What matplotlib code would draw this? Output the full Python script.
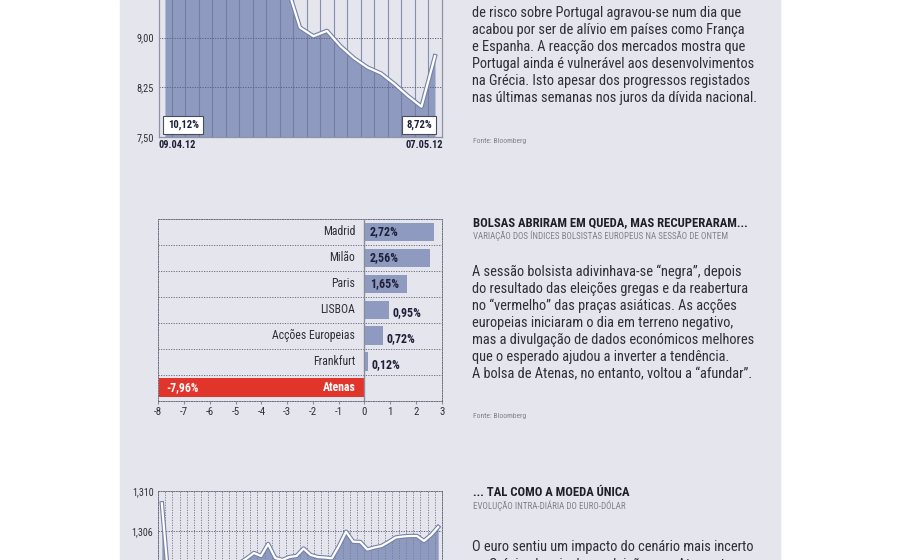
import numpy as np
import matplotlib
matplotlib.use("Agg")
import matplotlib.pyplot as plt
import matplotlib.patheffects as pe
from matplotlib import font_manager
from matplotlib.font_manager import FontProperties
from matplotlib.patches import Rectangle
from matplotlib.textpath import TextPath
from matplotlib.ticker import FuncFormatter

# --- data -------------------------------------------------------------
# Portuguese 10y yield, daily (09.04.12 .. 07.05.12)
yield_dates = ["09.04.12", "07.05.12"]
pt_yield = [10.12, 10.30, 10.45, 10.55, 10.70, 10.60, 10.80, 10.95, 10.70, 9.80,
            9.15, 9.02, 9.10, 8.87, 8.69, 8.55, 8.46, 8.30, 8.12, 7.96, 8.72]
yield_ticks = [7.50, 8.25, 9.00]

# European stock indices, % change in yesterday's session
markets = ["Madrid", "Milão", "Paris", "LISBOA", "Acções Europeias", "Frankfurt", "Atenas"]
changes = [2.72, 2.56, 1.65, 0.95, 0.72, 0.12, -7.96]
change_ticks = list(range(-8, 4))

# EUR/USD intraday
eurusd = [1.30877, 1.3006, 1.3012, 1.3018, 1.3010, 1.3015, 1.3021, 1.3017, 1.3023, 1.3020,
          1.3026, 1.3028, 1.30327, 1.30380, 1.30350, 1.30470, 1.30330, 1.30310, 1.30340, 1.30350,
          1.30425, 1.30360, 1.30340, 1.30335, 1.30327, 1.30450, 1.30593, 1.30493, 1.30490, 1.30415,
          1.30435, 1.30450, 1.30490, 1.30535, 1.30545, 1.30550, 1.30550, 1.30500, 1.30560, 1.30640]
eurusd_ticks = [1.306, 1.310]
eurusd_floor = 1.298

top_text = [
    "de risco sobre Portugal agravou-se num dia que",
    "acabou por ser de alívio em países como França",
    "e Espanha. A reacção dos mercados mostra que",
    "Portugal ainda é vulnerável aos desenvolvimentos",
    "na Grécia. Isto apesar dos progressos registados",
    "nas últimas semanas nos juros da dívida nacional.",
]
mid_title = "BOLSAS ABRIRAM EM QUEDA, MAS RECUPERARAM..."
mid_sub = "VARIAÇÃO DOS ÍNDICES BOLSISTAS EUROPEUS NA SESSÃO DE ONTEM"
mid_text = [
    "A sessão bolsista adivinhava-se “negra”, depois",
    "do resultado das eleições gregas e da reabertura",
    "no “vermelho” das praças asiáticas. As acções",
    "europeias iniciaram o dia em terreno negativo,",
    "mas a divulgação de dados económicos melhores",
    "que o esperado ajudou a inverter a tendência.",
    "A bolsa de Atenas, no entanto, voltou a “afundar”.",
]
bot_title = "... TAL COMO A MOEDA ÚNICA"
bot_sub = "EVOLUÇÃO INTRA-DIÁRIA DO EURO-DÓLAR"
bot_text = [
    "O euro sentiu um impacto do cenário mais incerto",
    "na Grécia, depois de as eleições em Atenas terem",
]
source = "Fonte: Bloomberg"

# --- style ------------------------------------------------------------
W, H = 900, 560
PANEL = "#e4e5ed"
FILL = "#8e9abf"
EDGE = "#7681a8"
RED = "#e1342b"
TXT = "#2e2f37"
NAVY = "#1d2038"
GREY = "#80828d"
DOT = (0, (1.2, 1.4))

names = {f.name for f in font_manager.fontManager.ttflist}
FONT = next((n for n in ["Liberation Sans Narrow", "Roboto Condensed", "Open Sans Condensed", "Lato"]
             if n in names), "DejaVu Sans")
plt.rcParams["font.family"] = [FONT, "DejaVu Sans"]
plt.rcParams["axes.unicode_minus"] = False

# scale all type so the body text fills the same width as the original
probe = TextPath((0, 0), top_text[3], size=10.3, prop=FontProperties(family=FONT))
S = 282 / (probe.get_extents().width * 100 / 72)


def fs(size):
    return size * S


def px_axes(left, top, right, bottom):
    return fig.add_axes([left / W, 1 - bottom / H, (right - left) / W, (bottom - top) / H])


def ftext(x, y, s, size, **kw):
    fig.text(x / W, 1 - y / H, s, fontsize=fs(size), va="center", ha="left", **kw)


def pct(v):
    return f"{v:.2f}%".replace(".", ",")


line_fx = [pe.Stroke(linewidth=3.2, foreground=EDGE), pe.Normal()]

fig = plt.figure(figsize=(W / 100, H / 100), dpi=100)
fig.patch.set_facecolor("white")
fig.patches.append(Rectangle((120 / W, 0), 660 / W, 1, transform=fig.transFigure,
                             color=PANEL, zorder=-1))

# --- top chart: yield -------------------------------------------------
ax1 = px_axes(159, -95.5, 442, 137.3)
ax1.set_facecolor("none")
x1 = np.arange(len(pt_yield))
ax1.fill_between(x1, pt_yield, 7.5, color=FILL, lw=0, zorder=1)
for g in x1[:-1] + 0.5:
    ax1.axvline(g, color="#6f7899", lw=0.8, alpha=0.8, zorder=2)
for yv in yield_ticks[1:]:
    ax1.axhline(yv, color="#5c5f70", lw=0.7, ls=DOT, zorder=2)
ax1.plot(x1, pt_yield, color="white", lw=1.6, zorder=3, path_effects=line_fx)
ax1.set_xlim(-0.44, 20.52)
ax1.set_ylim(7.5, 11.0)
ax1.set_xticks([])
ax1.set_yticks(yield_ticks)
ax1.yaxis.set_major_formatter(FuncFormatter(lambda v, p: f"{v:.2f}".replace(".", ",")))
ax1.tick_params(axis="y", length=0, pad=3.5, labelsize=fs(7.4), labelcolor=TXT)
for s in ["left", "right", "bottom"]:
    ax1.spines[s].set_color("#8f93a6")
    ax1.spines[s].set_linewidth(0.9)
ax1.spines["top"].set_visible(False)
box = dict(boxstyle="square,pad=0.4", fc="white", ec="#4a4d5c", lw=0.8)
ax1.annotate(pct(pt_yield[0]), xy=(x1[0], 7.5), xytext=(2.0, 8.9), textcoords="offset points",
             ha="left", va="center", fontsize=fs(7.6), weight="bold", color=NAVY, bbox=box)
ax1.annotate(pct(pt_yield[-1]), xy=(x1[-1], 7.5), xytext=(-2.2, 8.9), textcoords="offset points",
             ha="right", va="center", fontsize=fs(7.6), weight="bold", color=NAVY, bbox=box)
ax1.annotate(yield_dates[0], xy=(0, 0), xycoords="axes fraction", xytext=(-0.5, -5.6),
             textcoords="offset points", ha="left", va="center", fontsize=fs(7.4),
             weight="bold", color=NAVY)
ax1.annotate(yield_dates[1], xy=(1, 0), xycoords="axes fraction", xytext=(0.5, -5.6),
             textcoords="offset points", ha="right", va="center", fontsize=fs(7.4),
             weight="bold", color=NAVY)

# --- middle chart: stock indices --------------------------------------
ax2 = px_axes(158.3, 219, 441.7, 400.7)
ax2.set_facecolor("none")
y2 = np.arange(len(markets))
ax2.barh(y2, changes, height=0.72, color=[RED if v < 0 else FILL for v in changes], zorder=2)
for b in y2[:-1] + 0.5:
    ax2.axhline(b, color="#6a6d7e", lw=0.7, ls=DOT, zorder=1)
ax2.axvline(0, color="#8a8d9c", lw=1.0, zorder=3)
ax2.set_xlim(-8, 3)
ax2.set_ylim(6.5, -0.5)
ax2.set_yticks([])
ax2.set_xticks(change_ticks)
ax2.tick_params(axis="x", length=2.5, color="#8a8d9c", pad=2.0, labelsize=fs(7.8), labelcolor=TXT)
for s in ax2.spines.values():
    s.set_linestyle(DOT)
    s.set_color("#6a6d7e")
    s.set_linewidth(0.7)
for i, (name, v) in enumerate(zip(markets, changes)):
    if v < 0:
        ax2.text(-0.36, i, name, ha="right", va="center", fontsize=fs(8.4), weight="bold",
                 color="white", zorder=4)
        ax2.text(v + 0.27, i, pct(v), ha="left", va="center", fontsize=fs(8.4), weight="bold",
                 color="white", zorder=4)
        continue
    ax2.text(-0.36, i, name, ha="right", va="center", fontsize=fs(8.4), color=TXT, zorder=4)
    if v >= 1.5:
        ax2.text(0.22, i, pct(v), ha="left", va="center", fontsize=fs(8.6), weight="bold",
                 color=NAVY, zorder=4)
    else:
        ax2.annotate(pct(v), xy=(v, i), xytext=(2.6, -2.0), textcoords="offset points",
                     ha="left", va="center", fontsize=fs(8.6), weight="bold", color=NAVY, zorder=4)

# --- bottom chart: EUR/USD --------------------------------------------
ax3 = px_axes(158.3, 491, 441.7, 611)
ax3.set_facecolor("none")
x3 = np.arange(len(eurusd))
ax3.fill_between(x3, eurusd, eurusd_floor, color=FILL, lw=0, zorder=1)
for g in np.arange(-0.5, len(eurusd)):
    ax3.axvline(g, color="#7c7f92", lw=0.7, ls=DOT, zorder=2)
ax3.axhline(eurusd_ticks[0], color="#5c5f70", lw=0.7, ls=DOT, zorder=2)
ax3.plot(x3, eurusd, color="white", lw=1.6, zorder=3, path_effects=line_fx)
ax3.set_xlim(-0.5, len(eurusd) - 0.5)
ax3.set_ylim(eurusd_floor, eurusd_ticks[-1])
ax3.set_xticks([])
ax3.set_yticks(eurusd_ticks)
ax3.yaxis.set_major_formatter(FuncFormatter(lambda v, p: f"{v:.3f}".replace(".", ",")))
ax3.tick_params(axis="y", length=0, pad=3.5, labelsize=fs(7.2), labelcolor=TXT)
for s in ax3.spines.values():
    s.set_linestyle(DOT)
    s.set_color("#6a6d7e")
    s.set_linewidth(0.7)

# --- text blocks ------------------------------------------------------
for i, line in enumerate(top_text):
    ftext(472, 13 + 17 * i, line, 10.3, color=TXT)
ftext(473, 141, source, 5.5, color=GREY)

ftext(473, 223, mid_title, 9.05, weight="bold", color="#1f2027")
ftext(473, 236, mid_sub, 6.4, color=GREY)
for i, line in enumerate(mid_text):
    ftext(472, 272 + 17 * i, line, 10.3, color=TXT)
ftext(473, 416, source, 5.5, color=GREY)

ftext(473, 493, bot_title, 9.05, weight="bold", color="#1f2027")
ftext(473, 506, bot_sub, 6.4, color=GREY)
for i, line in enumerate(bot_text):
    ftext(472, 547.5 + 17 * i, line, 10.3, color=TXT)

fig.savefig("out.png", dpi=100)
